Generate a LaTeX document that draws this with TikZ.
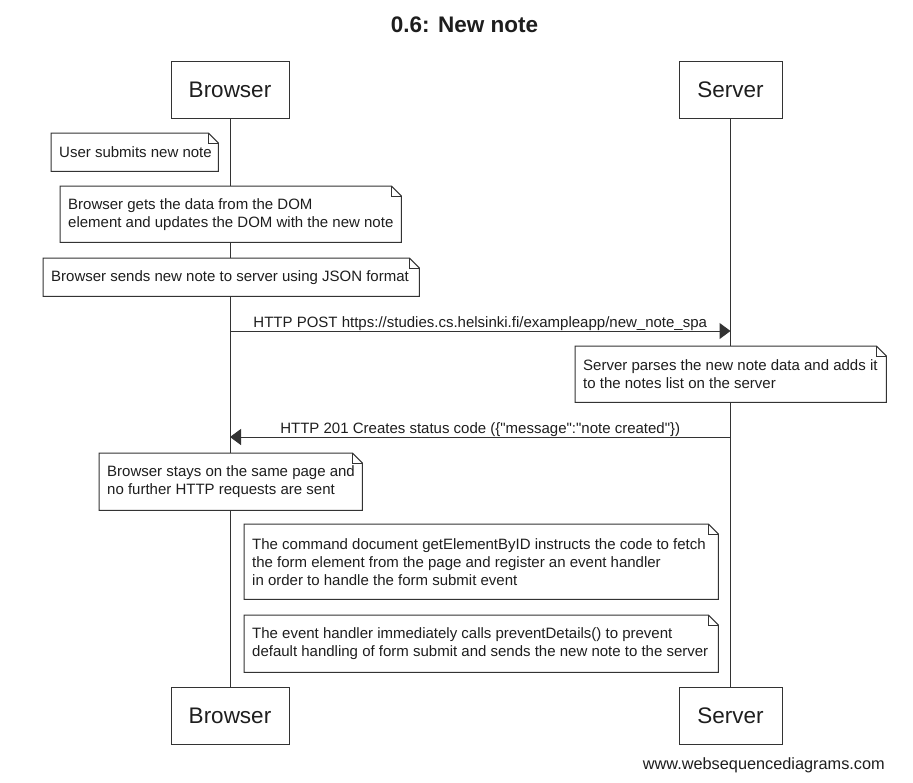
\documentclass[tikz,border=0pt]{standalone}
\usepackage{fontspec}
\setmainfont{Liberation Sans}[Ligatures=TeXOff]
\usetikzlibrary{arrows.meta}
\definecolor{ln}{HTML}{333333}
\definecolor{tx}{HTML}{1E1E1E}
\newcommand\notefont{\fontsize{15}{18}\selectfont}
\newcommand\mynote[6]{%
  \pgfmathsetmacro\nbw{#4-#2}\pgfmathsetmacro\nbh{#5-#3}%
  \node[notebox, minimum width=\nbw pt, minimum height=\nbh pt] (#1) at (#2,#3) {};
  \draw[frame] (#1.north west) -- ([xshift=-10pt]#1.north east) -- ([yshift=-10pt]#1.north east) -- (#1.south east) -- (#1.south west) -- cycle;
  \draw[frame] ([xshift=-10pt]#1.north east) |- ([yshift=-10pt]#1.north east);
  \node[notetext] (#1t) at ([xshift=8pt]#1.west) {#6};
}
\tikzset{
  frame/.style={draw=ln, line width=1pt, line join=miter},
  notebox/.style={draw=none, fill=white, anchor=north west, inner sep=0pt},
  notetext/.style={anchor=west, inner sep=0pt, align=left, font=\notefont, text=tx},
  actor/.style={draw=ln, line width=1pt, fill=white, minimum height=57pt, inner sep=0pt, font=\fontsize{22.5}{27}\selectfont, text=tx},
  life/.style={draw=ln, line width=1pt},
  msg/.style={draw=ln, line width=1pt, -{Triangle[length=11pt,width=16pt]}},
  lbl/.style={anchor=base, inner sep=0pt, yshift=3.5pt, font=\notefont, text=tx}
}
\begin{document}
\begin{tikzpicture}[x=1pt,y=-1pt]
\useasboundingbox[fill=white] (0,0) rectangle (913,782);
\node[font=\fontsize{22.5}{27}\selectfont\bfseries, text=tx, inner sep=0pt] (title) at (464.5,25) {0.6: New note};
% actors
\node[actor, minimum width=118pt] (b0) at (230,89.5) {Browser};
\node[actor, minimum width=103pt] (s0) at (730.5,89.5) {Server};
\node[actor, minimum width=118pt] (b1) at (230,715.5) {Browser};
\node[actor, minimum width=103pt] (s1) at (730.5,715.5) {Server};
% lifelines
\draw[life] (b0.south) -- (b1.north);
\draw[life] (s0.south) -- (s1.north);
% notes
\mynote{n1}{51}{133}{218}{171}{User submits new note}
\mynote{n2}{60}{186}{401}{242}{Browser gets the data from the DOM\\element and updates the DOM with the new note}
\mynote{n3}{43}{258}{419}{296}{Browser sends new note to server using JSON format}
% messages
\coordinate (bpost) at (b0 |- 0,331);
\coordinate (spost) at (s0 |- 0,331);
\draw[msg] (bpost) -- node[lbl, pos=0.5] {HTTP POST https://studies.cs.helsinki.fi/exampleapp/new\_note\_spa} (spost);
\mynote{n4}{575}{346}{886}{402}{Server parses the new note data and adds it\\to the notes list on the server}
\coordinate (sret) at (s0 |- 0,437);
\coordinate (bret) at (b0 |- 0,437);
\draw[msg] (sret) -- node[lbl, pos=0.5] {HTTP 201 Creates status code (\{"message":"note created"\})} (bret);
\mynote{n5}{99}{453}{362}{510}{Browser stays on the same page and\\no further HTTP requests are sent}
\mynote{n6}{244}{524}{718}{599}{The command document getElementByID instructs the code to fetch\\the form element from the page and register an event handler\\in order to handle the form submit event}
\mynote{n7}{244}{615}{718}{672}{The event handler immediately calls preventDetails() to prevent\\default handling of form submit and sends the new note to the server}
% footer
\node[anchor=east, inner sep=0pt, font=\fontsize{16.3}{19}\selectfont, text=tx] (foot) at (885,765) {www.websequencediagrams.com};
\end{tikzpicture}
\end{document}
